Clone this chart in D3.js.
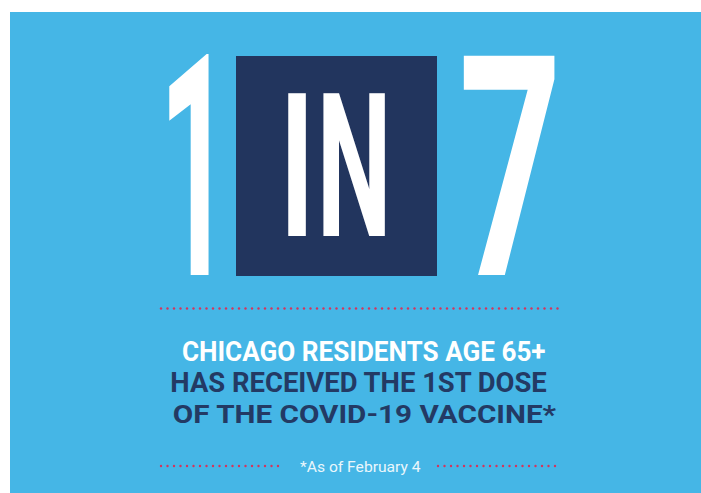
<!DOCTYPE html>
<html>
<head>
<meta charset="utf-8">
<style>
  body { margin: 0; background: #fff; }
  svg { display: block; }
</style>
</head>
<body>
<svg id="card"></svg>
<script src="https://cdn.jsdelivr.net/npm/d3@7/dist/d3.min.js"></script>
<script>
// the figure: 1 in 7
var ratio = [1, 7]
var joinWord = 'IN'
var headline = ['CHICAGO RESIDENTS AGE 65+', 'HAS RECEIVED THE 1ST DOSE', 'OF THE COVID-19 VACCINE*']
var headlineFill = ['#ffffff', '#233a64', '#233a64']
var footnote = '*As of February 4'

var width = 701, height = 493

var svg = d3.select('#card')
    .attr('width', width)
    .attr('height', height)

svg.append('rect')
    .attr('x', 10).attr('y', 12)
    .attr('width', width - 10).attr('height', height - 12)
    .attr('fill', '#45b6e6')

// canvas used to measure ink bounds so glyphs can be stretched into their boxes
var ctx = document.createElement('canvas').getContext('2d')

function fitText(str, weight, box, fill) {
    ctx.font = weight + ' 200px Roboto'
    var m = ctx.measureText(str)
    var left = -m.actualBoundingBoxLeft, right = m.actualBoundingBoxRight
    var top = -m.actualBoundingBoxAscent, bottom = m.actualBoundingBoxDescent
    var sx = (box[1] - box[0]) / (right - left)
    var sy = (box[3] - box[2]) / (bottom - top)
    return svg.append('text')
        .attr('font-family', 'Roboto')
        .attr('font-weight', weight)
        .attr('font-size', 200)
        .attr('fill', fill)
        .attr('transform', 'translate(' + (box[0] - left * sx) + ',' + (box[2] - top * sy) + ') scale(' + sx + ',' + sy + ')')
        .text(str)
}

// big numerals
fitText(String(ratio[0]), 'bold', [169, 209, 53, 275], '#ffffff')
fitText(String(ratio[1]), 'bold', [463, 555, 53, 275], '#ffffff')

// navy square with "IN"
svg.append('rect')
    .attr('x', 236).attr('y', 56)
    .attr('width', 201).attr('height', 220)
    .attr('fill', '#22355e')

var letterBoxes = [[288, 306, 93, 236], [323, 385, 93, 236]]
joinWord.split('').forEach(function(ch, i) {
    fitText(ch, 'bold', letterBoxes[i], '#ffffff')
})

// dotted rules
function dots(x0, x1, y) {
    var step = 6.5
    var n = Math.floor((x1 - x0) / step) + 1
    svg.append('g').selectAll('circle')
        .data(d3.range(n))
        .enter()
        .append('circle')
        .attr('cx', function(d) { return x0 + d * step })
        .attr('cy', y)
        .attr('r', 1.2)
        .attr('fill', '#d6345c')
}
dots(161, 562, 308.5)
dots(161, 283, 466)
dots(438, 560, 466)

// headline lines
var lineBoxes = [[183, 545, 341, 361], [172, 548, 372, 392], [174, 557, 403.5, 423]]
headline.forEach(function(line, i) {
    fitText(line, 'bold', lineBoxes[i], headlineFill[i])
})

// footnote: fixed size, stretched to width
ctx.font = '15.5px Roboto'
var fm = ctx.measureText(footnote)
var fw = fm.actualBoundingBoxRight + fm.actualBoundingBoxLeft
var fsx = (421 - 300) / fw
svg.append('text')
    .attr('font-family', 'Roboto')
    .attr('font-size', 15.5)
    .attr('fill', '#eaf6fc')
    .attr('transform', 'translate(' + (300 + fm.actualBoundingBoxLeft * fsx) + ',472) scale(' + fsx + ',1)')
    .text(footnote)
</script>
</body>
</html>
